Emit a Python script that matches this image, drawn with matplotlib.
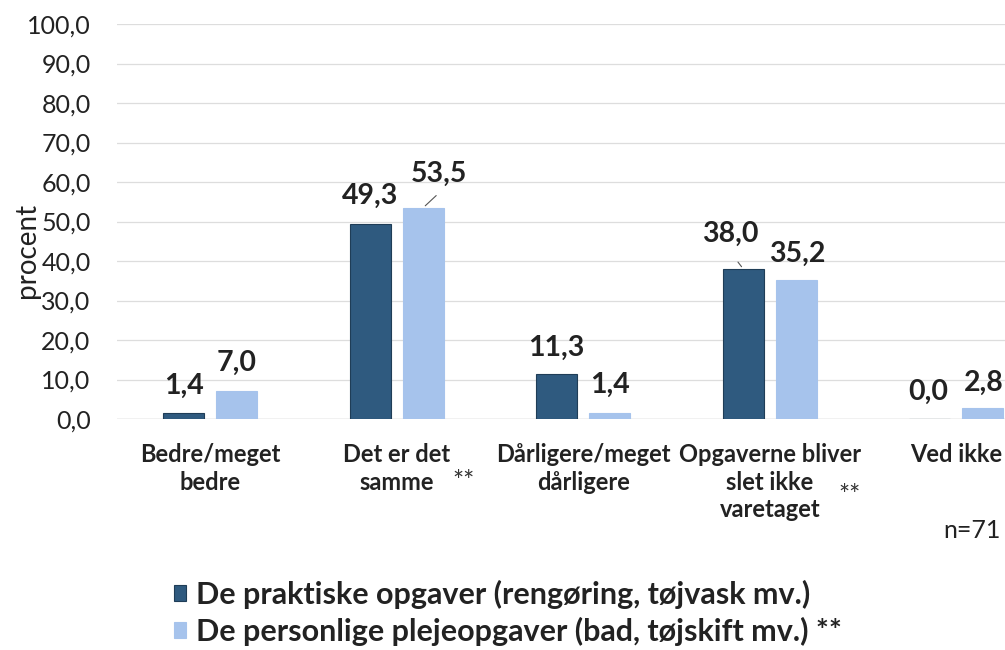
import matplotlib.pyplot as plt
import numpy as np

plt.rcParams['font.family'] = ['Lato', 'DejaVu Sans']

categories = ['Bedre/meget\nbedre', 'Det er det\nsamme', 'Dårligere/meget\ndårligere',
              'Opgaverne bliver\nslet ikke\nvaretaget', 'Ved ikke']
praktiske = [1.4, 49.3, 11.3, 38.0, 0.0]
personlige = [7.0, 53.5, 1.4, 35.2, 2.8]
series_names = ['De praktiske opgaver (rengøring, tøjvask mv.)',
                'De personlige plejeopgaver (bad, tøjskift mv.) **']
yticks = np.arange(0, 101, 10)

dark = '#2F5A7F'
light = '#A6C3EC'

fig = plt.figure(figsize=(10.05, 6.5), dpi=100)
ax = fig.add_axes([117 / 1005, 1 - 419 / 650, 932.5 / 1005, 395 / 650])

x = np.arange(len(categories))
w = 0.22
off = 0.142
b1 = ax.bar(x - off, praktiske, w, color=dark, edgecolor='#1F3D57', linewidth=0.8,
            label=series_names[0], zorder=3)
b2 = ax.bar(x + off, personlige, w, color=light, edgecolor=light, linewidth=0.8,
            label=series_names[1], zorder=3)

ax.set_xlim(-0.5, len(categories) - 0.5)
ax.set_ylim(0, 100)
ax.set_yticks(yticks)
ax.set_yticklabels([f'{v:.1f}'.replace('.', ',') for v in yticks], fontsize=18, color='#222222')
ax.yaxis.grid(True, color='#DDDDDD', linewidth=0.9, zorder=0)
for s in ax.spines.values():
    s.set_visible(False)
ax.axhline(0, color='#D0D0D0', linewidth=1.0, zorder=2)
ax.tick_params(axis='y', length=0, pad=19)
ax.set_xticks(x)
ax.set_xticklabels(categories, fontsize=17, fontweight='bold', color='#222222', linespacing=1.24,
                   va='top')
ax.tick_params(axis='x', length=0, pad=17.5)

# label offsets in pixels (dx, dy) from the bar top
off1 = [(0, 28), (0, 28), (0, 27), (-13, 35), (-2, 27)]
off2 = [(0, 28), (16, 34), (0, 29), (1, 26), (1, 25)]
for bars, vals, offs in ((b1, praktiske, off1), (b2, personlige, off2)):
    for r, v, (dx, dy) in zip(bars, vals, offs):
        cx = r.get_x() + r.get_width() / 2
        ax.annotate(f'{v:.1f}'.replace('.', ','), (cx, v), xytext=(dx, dy),
                    textcoords='offset pixels', ha='center', va='center',
                    fontsize=20.5, fontweight='bold', color='#222222')

# leader lines
ax.annotate('', (b2[1].get_x() + b2[1].get_width() / 2, personlige[1]), xytext=(15, 14),
            textcoords='offset pixels',
            arrowprops=dict(arrowstyle='-', color='#555555', lw=0.8))
ax.annotate('', (b1[3].get_x() + b1[3].get_width() / 2, praktiske[3]), xytext=(-7, 9),
            textcoords='offset pixels',
            arrowprops=dict(arrowstyle='-', color='#555555', lw=0.8))

fig.text(464 / 1005, 1 - 482 / 650, '**', fontsize=19, ha='center', va='center', color='#333333')
fig.text(850 / 1005, 1 - 496 / 650, '**', fontsize=19, ha='center', va='center', color='#333333')

fig.text(27 / 1005, 1 - 250 / 650, 'procent', rotation=90, ha='center', va='center',
         fontsize=20, color='#222222')
fig.text(972 / 1005, 1 - 530 / 650, 'n=71', ha='center', va='center', fontsize=18, color='#222222')

leg = fig.legend(handles=[b1, b2], loc='center left', bbox_to_anchor=(146 / 1005, 1 - 613 / 650),
                 frameon=False, handlelength=0.42, handleheight=0.42, handletextpad=0.3,
                 labelspacing=0.25, prop={'size': 22, 'weight': 'bold'})
for t in leg.get_texts():
    t.set_color('#222222')

fig.savefig('out.png', dpi=100)
